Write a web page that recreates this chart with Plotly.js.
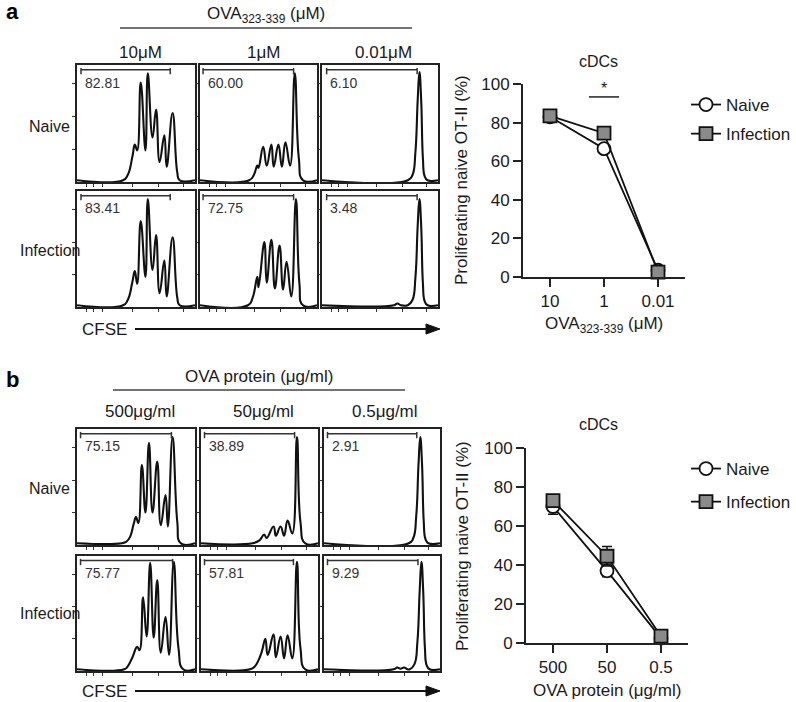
<!DOCTYPE html>
<html><head><meta charset="utf-8">
<script src="https://cdn.plot.ly/plotly-3.0.1.min.js"></script>
<style>html,body{margin:0;padding:0;background:#fff}</style>
</head><body><div id="chart" style="width:796px;height:702px"></div>
<script>
// ================= DATA =================
// Histogram column / row labels
const colLabelsA = ['10\u03bcM', '1\u03bcM', '0.01\u03bcM'];
const colLabelsB = ['500\u03bcg/ml', '50\u03bcg/ml', '0.5\u03bcg/ml'];
const rowLabels = ['Naive', 'Infection'];
// Gated percentages (row-major: Naive row then Infection row)
const pctA = ['82.81', '60.00', '6.10', '83.41', '72.75', '3.48'];
const pctB = ['75.15', '38.89', '2.91', '75.77', '57.81', '9.29'];
// Gate bar start / end (CFSE units 0-100)
const gateStartA = [3.4, 2.6, 4, 3.4, 2.6, 4];
const gateEndA   = [79, 80, 82, 79, 80, 82];
const gateStartB = [3, 3, 3, 3, 3, 3];
const gateEndB   = [80, 80, 80, 81, 79, 81];

// CFSE histograms (x = CFSE channel 0-100, y = relative count 0-100)
const hA_N10_x = [0, 39, 43, 47, 49, 51, 54, 58, 60, 64, 67, 70, 74, 76, 81, 85, 87, 100];
const hA_N10_y = [1.5, 1.5, 6, 22, 32, 27, 85, 27, 93, 38, 62, 17, 40, 13, 59, 8, 1.5, 1.5];
const hA_N1_x  = [0, 42, 46, 49, 50, 54, 57, 61, 63, 67, 70, 73, 77, 81, 84.5, 88, 100];
const hA_N1_y  = [1.5, 1.5, 6, 14, 12, 30, 14, 32, 13, 32, 13, 34, 14, 93, 20, 1.5, 1.5];
const hA_N001_x = [0, 74, 78, 80.5, 82.5, 84, 85.5, 87, 88.5, 91, 100];
const hA_N001_y = [1.5, 1.5, 6, 25, 70, 94, 70, 20, 5, 1.5, 1.5];
const hA_I10_x = [0, 39, 43, 47, 49, 51, 54, 58, 60, 64, 67, 70, 74, 76, 81, 85, 87, 100];
const hA_I10_y = [1.5, 1.5, 6, 22, 31, 20, 74, 26, 93, 32, 62, 12, 40, 9, 60, 8, 1.5, 1.5];
const hA_I1_x  = [0, 41, 45, 49, 50, 55, 57, 61, 64, 68, 71, 74, 78, 82, 85, 88, 100];
const hA_I1_y  = [1.5, 1.5, 8, 26, 17, 56, 21, 58, 16, 53, 15, 39, 9, 93, 20, 1.5, 1.5];
const hA_I001_x = [0, 62, 65, 68, 74, 78, 80.5, 82.5, 84, 85.5, 87, 88.5, 91, 100];
const hA_I001_y = [1.5, 1.5, 3, 1.5, 1.5, 6, 25, 70, 93, 70, 20, 5, 1.5, 1.5];

const hB_N500_x = [0, 38, 42, 45, 48, 50, 52, 55, 58, 61, 64, 68, 71, 75, 77, 81, 85, 88, 100];
const hB_N500_y = [1.5, 1.5, 3, 7, 18, 24, 19, 69, 28, 88, 28, 72, 17, 43, 16, 93, 20, 1.5, 1.5];
const hB_N50_x  = [0, 44, 50, 54, 56, 62, 64, 68, 71, 74, 78, 82, 85, 89, 100];
const hB_N50_y  = [1.5, 1.5, 4, 9, 6, 16, 8, 16, 8, 21, 10, 93, 20, 1.5, 1.5];
const hB_N05_x  = [0, 73, 77, 79.5, 81.5, 83, 84.5, 86, 87.5, 90, 100];
const hB_N05_y  = [1.5, 1.5, 6, 25, 70, 93, 70, 20, 5, 1.5, 1.5];
const hB_I500_x = [0, 40, 43, 47, 51, 53, 56, 59, 62, 65, 68, 71, 75, 78, 82, 86, 90, 100];
const hB_I500_y = [1.5, 1.5, 4, 12, 21, 18, 64, 30, 94, 29, 79, 16, 47, 14, 95, 20, 1.5, 1.5];
const hB_I50_x  = [0, 42, 46, 49, 52, 55, 57, 62, 64, 68, 71, 74, 78, 82, 85, 89, 100];
const hB_I50_y  = [1.5, 1.5, 4, 9, 17, 28, 14, 32, 12, 30, 11, 31, 11, 95, 20, 1.5, 1.5];
const hB_I05_x  = [0, 60, 63, 66, 69, 72, 74, 78, 80.5, 82.5, 84, 85.5, 87, 88.5, 91, 100];
const hB_I05_y  = [1.5, 1.5, 3, 2, 3, 1.5, 1.5, 6, 25, 70, 95, 70, 20, 5, 1.5, 1.5];

// Line charts
const dosesA = ['10', '1', '0.01'];
const naiveA = [83, 66.5, 3.5];
const naiveAErr = [1.5, 2, 1];
const infA = [83.5, 74.5, 2.5];
const infAErr = [1.5, 2, 1];
const dosesB = ['500', '50', '0.5'];
const naiveB = [70, 37, 2.5];
const naiveBErr = [4, 3, 1];
const infB = [73, 44.5, 3.5];
const infBErr = [3, 5, 1];
const yTicks = [0, 20, 40, 60, 80, 100];

// ================= LAYOUT GEOMETRY (pixels) =================
const W = 796, H = 702;
const X = px => px / W, Y = py => 1 - py / H;
const colsA = [[77, 195], [200, 317], [322, 438]];
const rowsA = [[65, 182], [191, 307]];
const colsB = [[77, 195], [201, 318], [324, 440]];
const rowsB = [[429, 545], [556, 671]];

const FONT = 'Arial, "Liberation Sans", sans-serif';
const INK = '#1a1a1a';

const histX = [hA_N10_x, hA_N1_x, hA_N001_x, hA_I10_x, hA_I1_x, hA_I001_x,
               hB_N500_x, hB_N50_x, hB_N05_x, hB_I500_x, hB_I50_x, hB_I05_x];
const histY = [hA_N10_y, hA_N1_y, hA_N001_y, hA_I10_y, hA_I1_y, hA_I001_y,
               hB_N500_y, hB_N50_y, hB_N05_y, hB_I500_y, hB_I50_y, hB_I05_y];
const pcts = pctA.concat(pctB);
const gS = gateStartA.concat(gateStartB);
const gE = gateEndA.concat(gateEndB);

const data = [];
const layout = {
  width: W, height: H, margin: {l: 0, r: 0, t: 0, b: 0},
  paper_bgcolor: '#fff', plot_bgcolor: 'rgba(0,0,0,0)',
  font: {family: FONT, color: INK, size: 17},
  showlegend: true, hovermode: false,
  shapes: [], annotations: []
};

for (let i = 0; i < 12; i++) {
  const k = i + 1;
  const xs = k === 1 ? 'x' : 'x' + k, ys = k === 1 ? 'y' : 'y' + k;
  const xa = k === 1 ? 'xaxis' : 'xaxis' + k, ya = k === 1 ? 'yaxis' : 'yaxis' + k;
  const isA = i < 6;
  const j = i % 6, r = Math.floor(j / 3), c = j % 3;
  const col = (isA ? colsA : colsB)[c], row = (isA ? rowsA : rowsB)[r];
  layout[xa] = {domain: [X(col[0]), X(col[1])], anchor: ys, range: [0, 100],
    showline: true, mirror: true, linewidth: 2, linecolor: '#222',
    ticks: 'outside', ticklen: 3, tickwidth: 1, tickcolor: '#333',
    tickvals: [8, 14, 22, 47, 69, 90], showticklabels: false,
    showgrid: false, zeroline: false, fixedrange: true};
  layout[ya] = {domain: [Y(row[1]), Y(row[0])], anchor: xs, range: [0, 100],
    showline: true, mirror: true, linewidth: 2, linecolor: '#222',
    ticks: 'outside', ticklen: 3, tickwidth: 1, tickcolor: '#333',
    tickvals: [28, 56, 84], showticklabels: false,
    showgrid: false, zeroline: false, fixedrange: true};
  data.push({x: histX[i], y: histY[i], xaxis: xs, yaxis: ys, mode: 'lines',
    line: {color: '#111', width: 2.1, shape: 'spline', smoothing: 1.3},
    showlegend: false, hoverinfo: 'skip'});
  // gate bar
  const gy = 96;
  layout.shapes.push({type: 'line', xref: xs, yref: ys, x0: gS[i], x1: gE[i], y0: gy, y1: gy,
    line: {color: '#333', width: 1.5}});
  layout.shapes.push({type: 'line', xref: xs, yref: ys, x0: gS[i], x1: gS[i], y0: gy - 4, y1: gy + 1.5,
    line: {color: '#333', width: 1.5}});
  layout.shapes.push({type: 'line', xref: xs, yref: ys, x0: gE[i], x1: gE[i], y0: gy - 4, y1: gy + 1.5,
    line: {color: '#333', width: 1.5}});
  layout.annotations.push({xref: xs, yref: ys, x: 5, y: 85, text: pcts[i], showarrow: false,
    xanchor: 'left', yanchor: 'middle', font: {size: 14, color: '#333'}});
}

// Line charts
const lineAxes = [
  {k: 13, xd: [523, 685], yd: [277, 84], cats: dosesA},
  {k: 14, xd: [526, 688], yd: [643, 448], cats: dosesB}
];
lineAxes.forEach(a => {
  layout['xaxis' + a.k] = {domain: [X(a.xd[0]), X(a.xd[1])], anchor: 'y' + a.k, type: 'category',
    categoryorder: 'array', categoryarray: a.cats, range: [-0.5, 2.5],
    showline: true, linewidth: 2, linecolor: '#222', ticks: 'outside', ticklen: 8, tickwidth: 2,
    tickcolor: '#222', tickfont: {size: 17, color: INK}, showgrid: false, zeroline: false, fixedrange: true};
  layout['yaxis' + a.k] = {domain: [Y(a.yd[0]), Y(a.yd[1])], anchor: 'x' + a.k, range: [0, 100],
    tickvals: yTicks, showline: true, linewidth: 2, linecolor: '#222', ticks: 'outside', ticklen: 8,
    tickwidth: 2, tickcolor: '#222', tickfont: {size: 17, color: INK}, showgrid: false, zeroline: false,
    fixedrange: true};
});

const naiveStyle = {mode: 'lines+markers', line: {color: '#111', width: 1.8},
  marker: {symbol: 'circle', size: 13, color: '#fff', line: {color: '#111', width: 1.8}}, cliponaxis: false};
const infStyle = {mode: 'lines+markers', line: {color: '#111', width: 1.8},
  marker: {symbol: 'square', size: 13, color: '#8a8a8a', line: {color: '#111', width: 1.8}}, cliponaxis: false};

data.push(Object.assign({x: dosesA, y: naiveA, name: 'Naive', xaxis: 'x13', yaxis: 'y13', legend: 'legend',
  legendgroup: 'na', error_y: {type: 'data', array: naiveAErr, color: '#111', thickness: 1.5, width: 5}}, naiveStyle));
data.push(Object.assign({x: dosesA, y: infA, name: 'Infection', xaxis: 'x13', yaxis: 'y13', legend: 'legend',
  legendgroup: 'ia', error_y: {type: 'data', array: infAErr, color: '#111', thickness: 1.5, width: 5}}, infStyle));
data.push(Object.assign({x: dosesB, y: naiveB, name: 'Naive', xaxis: 'x14', yaxis: 'y14', legend: 'legend2',
  legendgroup: 'nb', error_y: {type: 'data', array: naiveBErr, color: '#111', thickness: 1.5, width: 5}}, naiveStyle));
data.push(Object.assign({x: dosesB, y: infB, name: 'Infection', xaxis: 'x14', yaxis: 'y14', legend: 'legend2',
  legendgroup: 'ib', error_y: {type: 'data', array: infBErr, color: '#111', thickness: 1.5, width: 5}}, infStyle));

layout.legend = {x: X(686), y: Y(87), xanchor: 'left', yanchor: 'top', bgcolor: 'rgba(0,0,0,0)',
  font: {size: 17, color: INK}, tracegroupgap: 4, itemwidth: 30};
layout.legend2 = {x: X(686), y: Y(451), xanchor: 'left', yanchor: 'top', bgcolor: 'rgba(0,0,0,0)',
  font: {size: 17, color: INK}, tracegroupgap: 8, itemwidth: 30};

// significance bar
layout.shapes.push({type: 'line', xref: 'x13', yref: 'y13', x0: 0.72, x1: 1.28, y0: 93.3, y1: 93.3,
  line: {color: '#222', width: 1.5}});
layout.annotations.push({xref: 'x13', yref: 'y13', x: dosesA[1], y: 97.5, text: '*', showarrow: false,
  font: {size: 16}, yanchor: 'middle'});

// Text annotations in paper space
const A = (px, py, text, opts) => layout.annotations.push(Object.assign(
  {xref: 'paper', yref: 'paper', x: X(px), y: Y(py), text: text, showarrow: false,
   xanchor: 'center', yanchor: 'middle'}, opts || {}));

A(12, 11, '<b>a</b>', {font: {size: 22, color: '#000'}});
A(12, 379, '<b>b</b>', {font: {size: 22, color: '#000'}});
A(266, 15, 'OVA<sub>323-339</sub> (\u03bcM)', {font: {size: 17}});
A(259, 376, 'OVA protein (\u03bcg/ml)', {font: {size: 17}});
layout.shapes.push({type: 'line', xref: 'paper', yref: 'paper', x0: X(120), x1: X(412), y0: Y(28), y1: Y(28),
  line: {color: '#444', width: 1.5}});
layout.shapes.push({type: 'line', xref: 'paper', yref: 'paper', x0: X(113), x1: X(405), y0: Y(390), y1: Y(390),
  line: {color: '#444', width: 1.5}});
const colCentersA = [140, 263, 383], colCentersB = [140, 263, 385];
colLabelsA.forEach((t, i) => A(colCentersA[i], 52, t, {font: {size: 17}}));
colLabelsB.forEach((t, i) => A(colCentersB[i], 411, t, {font: {size: 17}}));
const rowCentersA = [126, 250], rowCentersB = [488, 613];
rowLabels.forEach((t, i) => A(50, rowCentersA[i], t, {font: {size: 16}}));
rowLabels.forEach((t, i) => A(50, rowCentersB[i], t, {font: {size: 16}}));
// CFSE arrows (line + filled head)
[329, 691].forEach(py => {
  A(80, py, 'CFSE', {xanchor: 'left', font: {size: 17}});
  layout.shapes.push({type: 'line', xref: 'paper', yref: 'paper', x0: X(135), x1: X(430), y0: Y(py), y1: Y(py),
    line: {color: '#111', width: 2}});
  layout.shapes.push({type: 'path', xref: 'paper', yref: 'paper',
    path: `M ${X(426)} ${Y(py - 5)} L ${X(440)} ${Y(py)} L ${X(426)} ${Y(py + 5)} Z`,
    fillcolor: '#111', line: {color: '#111', width: 1}});
});
// Line chart titles
A(598, 61, 'cDCs', {font: {size: 16}});
A(598, 424, 'cDCs', {font: {size: 16}});
A(462, 180, 'Proliferating naive OT-II (%)', {textangle: -90, font: {size: 17}});
A(462, 546, 'Proliferating naive OT-II (%)', {textangle: -90, font: {size: 17}});
A(604, 325, 'OVA<sub>323-339</sub> (\u03bcM)', {font: {size: 17}});
A(607, 690, 'OVA protein (\u03bcg/ml)', {font: {size: 17}});

Plotly.newPlot('chart', data, layout, {staticPlot: true, displayModeBar: false});
</script></body></html>
